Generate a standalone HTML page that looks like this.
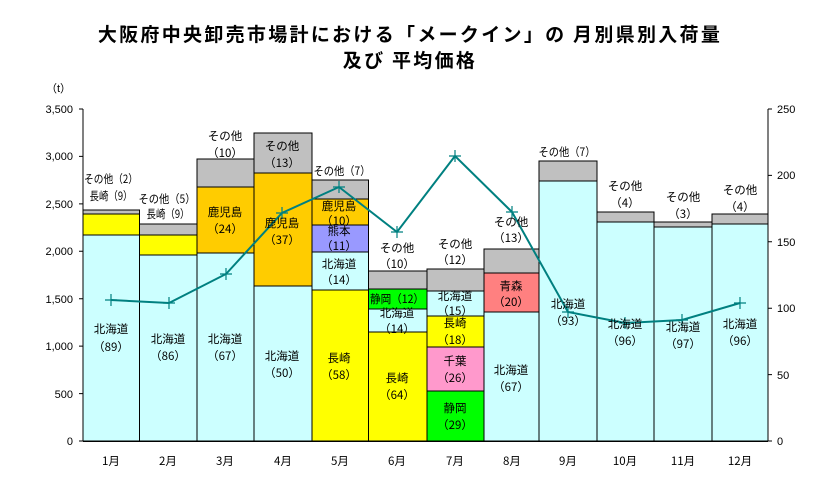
<!DOCTYPE html>
<html><head><meta charset="utf-8"><style>
body{margin:0;background:#fff;}
svg{display:block;font-family:"Liberation Sans","Noto Sans CJK JP",sans-serif;}
.l{font-size:11.5px;text-anchor:middle;fill:#000;font-family:"Noto Sans CJK JP",sans-serif;}
.t{font-size:11px;}
</style></head><body>
<svg width="819" height="488" xmlns="http://www.w3.org/2000/svg">
<text x="410" y="41" text-anchor="middle" font-size="19" font-weight="bold" letter-spacing="2.3" font-family="'Noto Sans CJK JP',sans-serif">大阪府中央卸売市場計における「メークイン」の 月別県別入荷量</text>
<text x="410" y="67" text-anchor="middle" font-size="19" font-weight="bold" letter-spacing="2.3" font-family="'Noto Sans CJK JP',sans-serif">及び 平均価格</text>
<text x="46" y="92" class="t">（t）</text>
<g stroke="#000" stroke-width="1">
<rect x="83" y="235" width="56.5" height="206" fill="#ccffff"/>
<rect x="83" y="214" width="56.5" height="21" fill="#ffff00"/>
<rect x="83" y="210" width="56.5" height="4" fill="#c0c0c0"/>
<rect x="139.5" y="255" width="57.5" height="186" fill="#ccffff"/>
<rect x="139.5" y="235" width="57.5" height="20" fill="#ffff00"/>
<rect x="139.5" y="224" width="57.5" height="11" fill="#c0c0c0"/>
<rect x="197" y="253" width="57" height="188" fill="#ccffff"/>
<rect x="197" y="187" width="57" height="66" fill="#ffcc00"/>
<rect x="197" y="159" width="57" height="28" fill="#c0c0c0"/>
<rect x="254" y="286" width="58" height="155" fill="#ccffff"/>
<rect x="254" y="173" width="58" height="113" fill="#ffcc00"/>
<rect x="254" y="133" width="58" height="40" fill="#c0c0c0"/>
<rect x="312" y="290" width="56.5" height="151" fill="#ffff00"/>
<rect x="312" y="252" width="56.5" height="38" fill="#ccffff"/>
<rect x="312" y="225" width="56.5" height="27" fill="#9999ff"/>
<rect x="312" y="199" width="56.5" height="26" fill="#ffcc00"/>
<rect x="312" y="180" width="56.5" height="19" fill="#c0c0c0"/>
<rect x="368.5" y="332" width="58.5" height="109" fill="#ffff00"/>
<rect x="368.5" y="309" width="58.5" height="23" fill="#ccffff"/>
<rect x="368.5" y="289" width="58.5" height="20" fill="#00ff00"/>
<rect x="368.5" y="271" width="58.5" height="18" fill="#c0c0c0"/>
<rect x="427" y="391" width="57" height="50" fill="#00ff00"/>
<rect x="427" y="347" width="57" height="44" fill="#ff99cc"/>
<rect x="427" y="316" width="57" height="31" fill="#ffff00"/>
<rect x="427" y="291" width="57" height="25" fill="#ccffff"/>
<rect x="427" y="269" width="57" height="22" fill="#c0c0c0"/>
<rect x="484" y="312" width="55" height="129" fill="#ccffff"/>
<rect x="484" y="273" width="55" height="39" fill="#ff8080"/>
<rect x="484" y="249" width="55" height="24" fill="#c0c0c0"/>
<rect x="539" y="181" width="58" height="260" fill="#ccffff"/>
<rect x="539" y="161" width="58" height="20" fill="#c0c0c0"/>
<rect x="597" y="222" width="57" height="219" fill="#ccffff"/>
<rect x="597" y="212" width="57" height="10" fill="#c0c0c0"/>
<rect x="654" y="227" width="58" height="214" fill="#ccffff"/>
<rect x="654" y="222" width="58" height="5" fill="#c0c0c0"/>
<rect x="712" y="224" width="56" height="217" fill="#ccffff"/>
<rect x="712" y="214" width="56" height="10" fill="#c0c0c0"/>
</g>
<g stroke="#000" stroke-width="1" fill="none">
<line x1="83" y1="109" x2="83" y2="441"/>
<line x1="768" y1="109" x2="768" y2="441"/>
<line x1="83" y1="441.5" x2="768" y2="441.5"/>
<path d="M79 109H83M79 156.4H83M79 203.9H83M79 251.3H83M79 298.7H83M79 346.1H83M79 393.6H83M79 441H83"/>
<path d="M768 109H772M768 175.4H772M768 241.8H772M768 308.2H772M768 374.6H772M768 441H772"/>
</g>
<g class="t" text-anchor="end">
<text x="73" y="113">3,500</text><text x="73" y="160">3,000</text><text x="73" y="208">2,500</text><text x="73" y="255">2,000</text><text x="73" y="303">1,500</text><text x="73" y="350">1,000</text><text x="73" y="398">500</text><text x="73" y="445">0</text>
</g>
<g class="t">
<text x="777" y="113">250</text><text x="777" y="179">200</text><text x="777" y="246">150</text><text x="777" y="312">100</text><text x="777" y="379">50</text><text x="777" y="445">0</text>
</g>
<g class="l">
<text x="111" y="465">1月</text><text x="168" y="465">2月</text><text x="225" y="465">3月</text><text x="283" y="465">4月</text><text x="340" y="465">5月</text><text x="397" y="465">6月</text><text x="455" y="465">7月</text><text x="512" y="465">8月</text><text x="568" y="465">9月</text><text x="625" y="465">10月</text><text x="683" y="465">11月</text><text x="740" y="465">12月</text>
</g>
<polyline fill="none" stroke="#008080" stroke-width="2" points="111,300 169,303 226,274 282,213 339,187 397,232 455,156 512,212 568,312 625,323 682,320 740,303"/>
<g stroke="#008080" stroke-width="1.2">
<path d="M105 300h12M111 294v12M163 303h12M169 297v12M220 274h12M226 268v12M276 213h12M282 207v12M333 187h12M339 181v12M391 232h12M397 226v12M449 156h12M455 150v12M506 212h12M512 206v12M562 312h12M568 306v12M619 323h12M625 317v12M676 320h12M682 314v12M734 303h12M740 297v12"/>
</g>
<g class="l">
<text x="111" y="183" textLength="54" lengthAdjust="spacingAndGlyphs">その他（2）</text><text x="111" y="200" textLength="43" lengthAdjust="spacingAndGlyphs">長崎（9）</text>
<text x="111" y="333">北海道</text><text x="111" y="351">（89）</text>
<text x="167" y="203" textLength="57" lengthAdjust="spacingAndGlyphs">その他（5）</text><text x="168" y="218" textLength="43" lengthAdjust="spacingAndGlyphs">長崎（9）</text>
<text x="168" y="343">北海道</text><text x="168" y="360">（86）</text>
<text x="225" y="140">その他</text><text x="225" y="157">（10）</text>
<text x="225" y="216">鹿児島</text><text x="225" y="233">（24）</text>
<text x="225" y="343">北海道</text><text x="225" y="360">（67）</text>
<text x="282" y="150">その他</text><text x="282" y="167">（13）</text>
<text x="282" y="227">鹿児島</text><text x="282" y="244">（37）</text>
<text x="282" y="360">北海道</text><text x="282" y="377">（50）</text>
<text x="342" y="175" textLength="57" lengthAdjust="spacingAndGlyphs">その他（7）</text>
<text x="339" y="210">鹿児島</text><text x="339" y="225">（10）</text>
<text x="339" y="235">熊本</text><text x="339" y="250">（11）</text>
<text x="339" y="268">北海道</text><text x="339" y="284">（14）</text>
<text x="339" y="362">長崎</text><text x="339" y="379">（58）</text>
<text x="397" y="252">その他</text><text x="397" y="268">（10）</text>
<text x="397" y="303" textLength="54" lengthAdjust="spacingAndGlyphs">静岡（12）</text>
<text x="397" y="317">北海道</text><text x="397" y="333">（14）</text>
<text x="397" y="382">長崎</text><text x="397" y="399">（64）</text>
<text x="455" y="248">その他</text><text x="455" y="264">（12）</text>
<text x="455" y="300">北海道</text><text x="455" y="315">（15）</text>
<text x="455" y="327">長崎</text><text x="455" y="344">（18）</text>
<text x="455" y="365">千葉</text><text x="455" y="382">（26）</text>
<text x="455" y="412">静岡</text><text x="455" y="429">（29）</text>
<text x="511" y="226">その他</text><text x="511" y="242">（13）</text>
<text x="511" y="290">青森</text><text x="511" y="306">（20）</text>
<text x="511" y="374">北海道</text><text x="511" y="391">（67）</text>
<text x="567" y="156" textLength="57" lengthAdjust="spacingAndGlyphs">その他（7）</text>
<text x="568" y="308">北海道</text><text x="568" y="325">（93）</text>
<text x="625" y="190">その他</text><text x="625" y="207">（4）</text>
<text x="625" y="328">北海道</text><text x="625" y="345">（96）</text>
<text x="683" y="201">その他</text><text x="683" y="218">（3）</text>
<text x="683" y="331">北海道</text><text x="683" y="348">（97）</text>
<text x="740" y="194">その他</text><text x="740" y="211">（4）</text>
<text x="740" y="328">北海道</text><text x="740" y="345">（96）</text>
</g>
</svg>
</body></html>
